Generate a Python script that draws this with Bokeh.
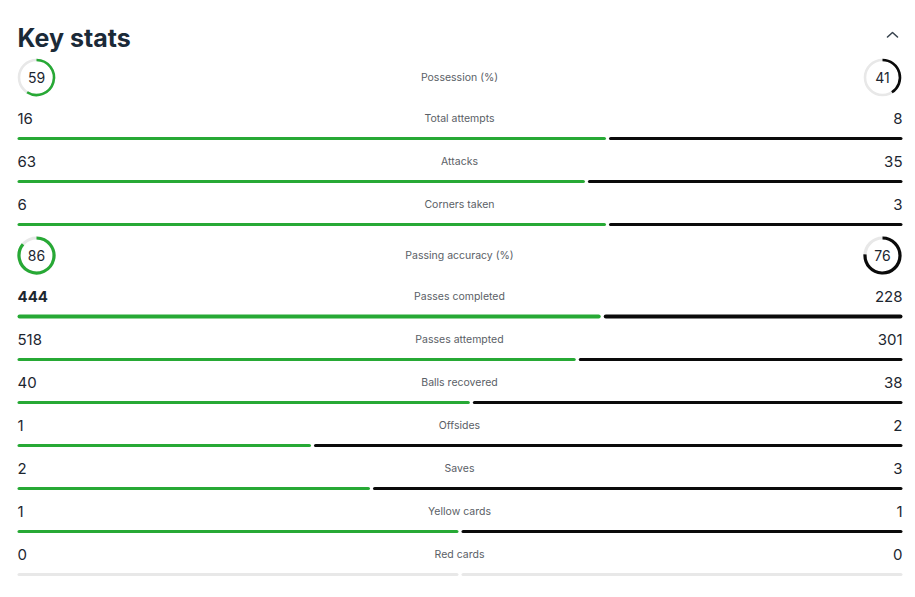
import math
from bokeh.plotting import figure
from bokeh.models import Range1d, ColumnDataSource
from bokeh.core.properties import value
from bokeh.embed import file_html
from bokeh.resources import INLINE

# ---------------- data ----------------
stat_labels = ["Possession (%)", "Total attempts", "Attacks", "Corners taken",
               "Passing accuracy (%)", "Passes completed", "Passes attempted",
               "Balls recovered", "Offsides", "Saves", "Yellow cards", "Red cards"]
home_values = [59, 16, 63, 6, 86, 444, 518, 40, 1, 2, 1, 0]
away_values = [41, 8, 35, 3, 76, 228, 301, 38, 2, 3, 1, 0]
is_percent = [True, False, False, False, True, False, False, False, False, False, False, False]
title_text = "Key stats"

# ---------------- style ----------------
W, H = 915, 597
GREEN = "#27a935"
BLACK = "#0a0a0a"
GREY = "#e8e8e8"
NUM_COLOR = "#1c2630"
LABEL_COLOR = "#5a6066"
FONT = "Inter"
X0, X1 = 17, 902
MID_GAP = 3

p = figure(width=W, height=H, x_range=Range1d(0, W), y_range=Range1d(0, H),
           output_backend="svg", toolbar_location=None, min_border=0)
p.axis.visible = False
p.grid.visible = False
p.outline_line_color = None
p.background_fill_color = "white"
p.border_fill_color = "white"

def Y(y):  # pixel-from-top to data
    return H - y

# title
p.text(x=[17], y=[Y(37)], text=[title_text], text_font=value(FONT),
       text_font_size="25px", text_font_style="bold", text_color="#1b2a38",
       text_baseline="middle", text_align="left")
# collapse chevron
p.line(x=[887, 892, 897], y=[Y(36.5), Y(32), Y(36.5)], line_color="#3a4550",
       line_width=1.6, line_cap="round", line_join="round")

# layout rows
ys = []
cur_bar = None
for i, pct in enumerate(is_percent):
    if i == 0:
        yc = 77
    elif pct:
        yc = cur_bar + 31
    else:
        if is_percent[i - 1]:
            yc = ys[-1] + 41
        else:
            yc = cur_bar + 23
    ys.append(yc)
    if not pct:
        cur_bar = yc + 20

for i, lab in enumerate(stat_labels):
    yc = ys[i]
    h, a = home_values[i], away_values[i]
    p.text(x=[459], y=[Y(yc)], text=[lab], text_font=value(FONT),
           text_font_size="10.5px", text_color=LABEL_COLOR,
           text_baseline="middle", text_align="center")
    if is_percent[i]:
        lw = 3.2 if i == 4 else 2.6
        r = 17.5
        for cx, v, col in ((36, h, GREEN), (882, a, BLACK)):
            p.circle(x=[cx], y=[Y(yc)], radius=r, radius_units="screen",
                     fill_color=None, line_color=GREY, line_width=lw)
            p.arc(x=[cx], y=[Y(yc)], radius=r, radius_units="screen",
                  start_angle=math.pi / 2, end_angle=math.pi / 2 - v / 100 * 2 * math.pi,
                  direction="clock", line_color=col, line_width=lw)
            p.text(x=[cx], y=[Y(yc)], text=[str(v)], text_font=value(FONT),
                   text_font_size="14px", text_color=NUM_COLOR,
                   text_baseline="middle", text_align="center")
    else:
        p.text(x=[X0], y=[Y(yc)], text=[str(h)], text_font=value(FONT),
               text_font_size="15px", text_font_style="bold" if i == 5 else "normal",
               text_color=NUM_COLOR, text_baseline="middle", text_align="left")
        p.text(x=[X1], y=[Y(yc)], text=[str(a)], text_font=value(FONT),
               text_font_size="15px", text_color=NUM_COLOR,
               text_baseline="middle", text_align="right")
        by = Y(yc + 20)
        tot = h + a
        frac = h / tot if tot > 0 else 0.5
        split = X0 + frac * (X1 - X0)
        lw = 4.2 if i == 5 else 3.2
        cap = lw / 2
        lcol, rcol = (GREEN, BLACK) if tot > 0 else (GREY, GREY)
        src = ColumnDataSource(dict(x0=[X0 + cap, split + MID_GAP / 2 + cap],
                                    x1=[split - MID_GAP / 2 - cap, X1 - cap],
                                    y0=[by, by], y1=[by, by], c=[lcol, rcol]))
        p.segment(x0="x0", y0="y0", x1="x1", y1="y1", source=src,
                  line_color="c", line_width=lw, line_cap="round")

open("out.html", "w").write(file_html(p, INLINE))
